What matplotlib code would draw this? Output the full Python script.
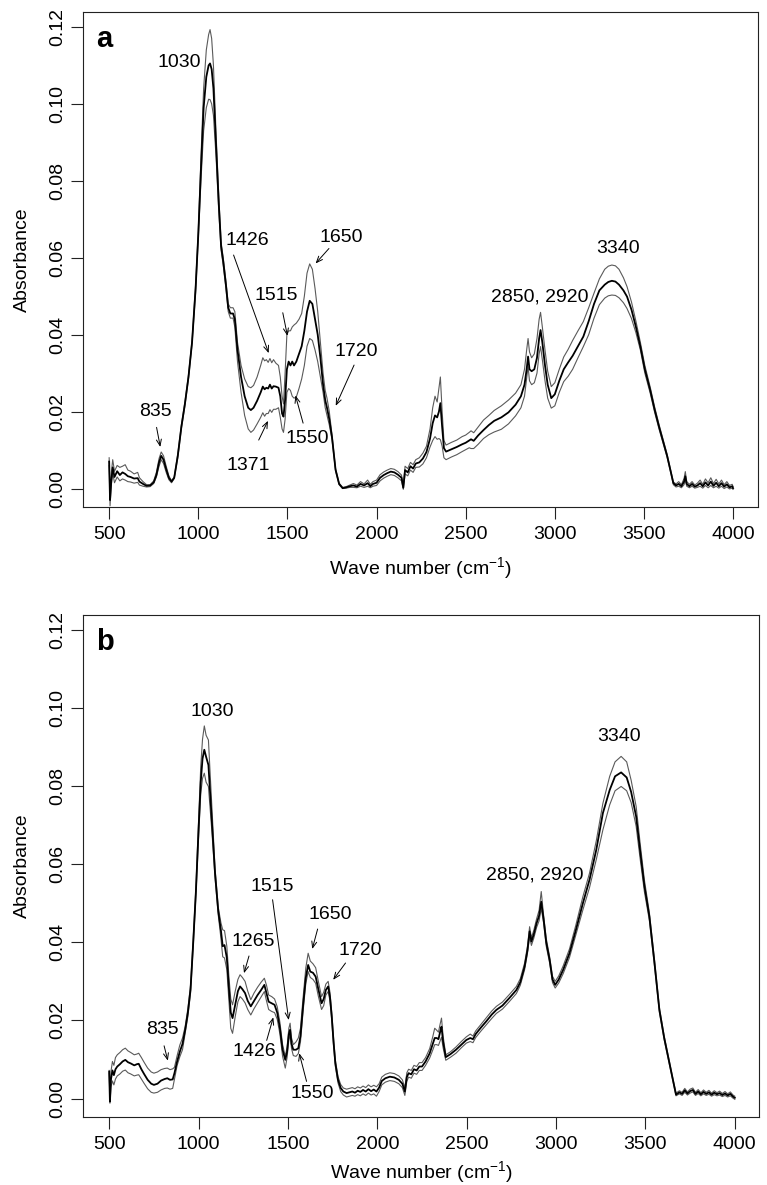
import numpy as np
import matplotlib
matplotlib.use("Agg")
import matplotlib.pyplot as plt
from matplotlib.ticker import FormatStrFormatter

plt.rcParams['font.family'] = ['Liberation Sans', 'DejaVu Sans']
plt.rcParams['mathtext.fontset'] = 'custom'
plt.rcParams['mathtext.rm'] = 'Liberation Sans'
plt.rcParams['mathtext.default'] = 'regular'

# ---- panel a: wave number, mean spectrum and the two outer spectra ----
wn_a = [500, 505, 512, 520, 530, 545, 560, 575, 590, 605, 620, 640, 660, 670, 690, 710, 730, 750,
        765, 780, 792, 805, 820, 835, 850, 865, 885, 905, 925, 945, 965, 985, 1000, 1015, 1030,
        1045, 1058, 1066, 1075, 1085, 1100, 1115, 1128, 1140, 1155, 1168, 1180, 1195, 1205, 1220,
        1240, 1260, 1280, 1295, 1310, 1330, 1350, 1362, 1372, 1382, 1392, 1402, 1412, 1422, 1435,
        1450, 1460, 1470, 1478, 1487, 1497, 1507, 1517, 1527, 1537, 1550, 1565, 1580, 1595, 1610,
        1625, 1640, 1655, 1670, 1685, 1700, 1712, 1722, 1735, 1750, 1770, 1790, 1810, 1830, 1850,
        1870, 1890, 1910, 1930, 1950, 1965, 1980, 2000, 2020, 2040, 2060, 2080, 2100, 2120, 2140,
        2150, 2160, 2175, 2190, 2205, 2220, 2240, 2260, 2280, 2300, 2315, 2328, 2340, 2350, 2358,
        2368, 2378, 2390, 2420, 2450, 2480, 2500, 2520, 2530, 2545, 2570, 2600, 2630, 2660, 2700,
        2740, 2780, 2810, 2830, 2842, 2850, 2858, 2870, 2885, 2900, 2912, 2920, 2930, 2945, 2960,
        2980, 3000, 3025, 3050, 3075, 3100, 3130, 3160, 3190, 3220, 3250, 3280, 3300, 3320, 3340,
        3360, 3385, 3405, 3430, 3455, 3480, 3505, 3535, 3560, 3585, 3610, 3630, 3650, 3665, 3680,
        3695, 3710, 3725, 3732, 3740, 3755, 3770, 3785, 3800, 3815, 3830, 3845, 3860, 3875, 3890,
        3905, 3920, 3935, 3950, 3965, 3980, 3995, 4000]
mean_a = [0.007, -0.003, 0.002, 0.0055, 0.003, 0.0045, 0.0035, 0.0042, 0.0038, 0.0032, 0.003, 0.0026,
          0.0027, 0.0018, 0.0012, 0.0007, 0.0008, 0.0016, 0.0035, 0.0068, 0.0085, 0.0075, 0.005, 0.0028,
          0.0018, 0.0028, 0.0085, 0.016, 0.022, 0.029, 0.038, 0.052, 0.066, 0.083, 0.099, 0.107, 0.110,
          0.1105, 0.109, 0.104, 0.089, 0.074, 0.063, 0.059, 0.053, 0.047, 0.0455, 0.0455, 0.044, 0.036,
          0.029, 0.024, 0.021, 0.0204, 0.021, 0.0228, 0.025, 0.0265, 0.0258, 0.0262, 0.026, 0.027, 0.026,
          0.0266, 0.0265, 0.0262, 0.024, 0.0195, 0.0187, 0.023, 0.031, 0.033, 0.032, 0.033, 0.032, 0.033,
          0.035, 0.037, 0.041, 0.046, 0.0488, 0.048, 0.044, 0.040, 0.034, 0.027, 0.023, 0.021, 0.018,
          0.0134, 0.0049, 0.0012, 0.0001, 0.0003, 0.0006, 0.0008, 0.0005, 0.0012, 0.0008, 0.0014, 0.0006,
          0.0012, 0.0015, 0.0028, 0.0035, 0.004, 0.0044, 0.0042, 0.0036, 0.0028, 0.0002, 0.0048, 0.0042,
          0.0058, 0.0052, 0.0065, 0.0068, 0.0078, 0.0095, 0.013, 0.017, 0.019, 0.0185, 0.020, 0.0222,
          0.016, 0.0105, 0.0096, 0.0102, 0.0108, 0.0115, 0.0119, 0.0125, 0.0128, 0.0124, 0.0138, 0.0152,
          0.0165, 0.0176, 0.0185, 0.0198, 0.0218, 0.024, 0.027, 0.031, 0.0343, 0.031, 0.0305, 0.031,
          0.034, 0.039, 0.0412, 0.038, 0.032, 0.027, 0.0235, 0.0245, 0.028, 0.031, 0.0328, 0.0345, 0.037,
          0.0395, 0.0435, 0.048, 0.0515, 0.053, 0.0537, 0.054, 0.0538, 0.053, 0.0515, 0.0499, 0.0465,
          0.042, 0.0369, 0.031, 0.0256, 0.0205, 0.016, 0.0118, 0.0085, 0.0045, 0.0014, 0.0008, 0.0012,
          0.0006, 0.0018, 0.0032, 0.0012, 0.0006, 0.0012, 0.0005, 0.0008, 0.0014, 0.0006, 0.0016, 0.0008,
          0.0018, 0.0007, 0.0015, 0.0006, 0.0014, 0.0005, 0.0011, 0.0003, 0.0006, 0.0001]
upper_a = [0.008, -0.002, 0.004, 0.0075, 0.0045, 0.006, 0.0055, 0.0058, 0.0062, 0.0048, 0.0045, 0.0038,
           0.0042, 0.0028, 0.0018, 0.001, 0.001, 0.002, 0.0042, 0.0078, 0.0095, 0.0085, 0.0058, 0.0033,
           0.002, 0.003, 0.009, 0.0165, 0.0225, 0.0295, 0.0385, 0.053, 0.067, 0.086, 0.104, 0.114, 0.118,
           0.1193, 0.117, 0.110, 0.092, 0.076, 0.064, 0.060, 0.054, 0.048, 0.047, 0.047, 0.046, 0.038,
           0.032, 0.0285, 0.0265, 0.0262, 0.0268, 0.029, 0.032, 0.034, 0.0332, 0.0335, 0.0328, 0.0338,
           0.0327, 0.0335, 0.0326, 0.032, 0.029, 0.024, 0.022, 0.030, 0.040, 0.041, 0.041, 0.042, 0.0425,
           0.043, 0.044, 0.0455, 0.050, 0.056, 0.0584, 0.057, 0.052, 0.046, 0.038, 0.030, 0.0255, 0.0235,
           0.020, 0.014, 0.0052, 0.0014, 0.0003, 0.0005, 0.0009, 0.0013, 0.0009, 0.0018, 0.0012, 0.0022,
           0.0011, 0.0018, 0.0022, 0.0036, 0.0043, 0.0048, 0.0052, 0.005, 0.0044, 0.0035, 0.0006, 0.0058,
           0.0052, 0.0068, 0.0062, 0.0075, 0.008, 0.0092, 0.011, 0.0155, 0.021, 0.024, 0.0225, 0.026,
           0.029, 0.020, 0.0125, 0.0113, 0.012, 0.0126, 0.0135, 0.0139, 0.0146, 0.015, 0.0145, 0.016,
           0.0178, 0.019, 0.0203, 0.0215, 0.023, 0.0248, 0.027, 0.031, 0.036, 0.039, 0.0355, 0.034, 0.035,
           0.039, 0.044, 0.0458, 0.042, 0.036, 0.0305, 0.0265, 0.0275, 0.031, 0.0342, 0.0362, 0.0385,
           0.041, 0.0434, 0.047, 0.0508, 0.0545, 0.057, 0.0578, 0.0581, 0.0579, 0.057, 0.0548, 0.0525,
           0.0485, 0.0435, 0.038, 0.032, 0.0264, 0.0212, 0.0166, 0.0123, 0.0089, 0.0048, 0.0017, 0.0012,
           0.0018, 0.001, 0.0026, 0.0044, 0.0018, 0.0011, 0.0018, 0.0009, 0.0014, 0.0022, 0.0011, 0.0025,
           0.0015, 0.0028, 0.0013, 0.0024, 0.0012, 0.0022, 0.001, 0.0018, 0.0008, 0.0011, 0.0005]
lower_a = [0.006, -0.0045, 0.001, 0.004, 0.0015, 0.003, 0.002, 0.0025, 0.0022, 0.0018, 0.0017, 0.0014,
           0.0016, 0.0009, 0.0006, 0.0004, 0.0005, 0.0013, 0.003, 0.0058, 0.0075, 0.0065, 0.0042, 0.0023,
           0.0015, 0.0026, 0.008, 0.0155, 0.0215, 0.0285, 0.0375, 0.051, 0.065, 0.080, 0.093, 0.099,
           0.1012, 0.1011, 0.100, 0.097, 0.086, 0.072, 0.062, 0.058, 0.052, 0.046, 0.0443, 0.0443, 0.042,
           0.033, 0.025, 0.019, 0.0155, 0.0146, 0.0152, 0.0168, 0.0185, 0.0197, 0.0188, 0.0195, 0.0195,
           0.0205, 0.0198, 0.0206, 0.0206, 0.021, 0.0185, 0.0155, 0.0146, 0.018, 0.025, 0.026, 0.0255,
           0.024, 0.0235, 0.0238, 0.026, 0.0285, 0.032, 0.037, 0.039, 0.0385, 0.036, 0.033, 0.029, 0.025,
           0.021, 0.019, 0.0165, 0.0128, 0.0046, 0.001, 0.0, 0.0001, 0.0003, 0.0003, 0.0002, 0.0006, 0.0003,
           0.0006, 0.0002, 0.0006, 0.0008, 0.002, 0.0027, 0.0032, 0.0036, 0.0034, 0.0028, 0.002, -0.0002,
           0.0038, 0.0033, 0.0048, 0.0042, 0.0055, 0.0056, 0.0064, 0.008, 0.0108, 0.0125, 0.0135, 0.0128,
           0.013, 0.0127, 0.011, 0.008, 0.0075, 0.0082, 0.0088, 0.0096, 0.0101, 0.0106, 0.0104, 0.0104,
           0.0115, 0.013, 0.014, 0.0147, 0.0154, 0.0168, 0.0189, 0.021, 0.024, 0.0285, 0.0317, 0.028,
           0.027, 0.0275, 0.030, 0.035, 0.0369, 0.0335, 0.028, 0.0235, 0.0209, 0.0215, 0.025, 0.0278,
           0.0292, 0.031, 0.034, 0.0369, 0.040, 0.0443, 0.0478, 0.0495, 0.0501, 0.0503, 0.0502, 0.0496,
           0.0483, 0.0468, 0.0442, 0.0405, 0.036, 0.030, 0.0248, 0.0198, 0.0154, 0.0113, 0.0081, 0.0042,
           0.001, 0.0004, 0.0006, 0.0002, 0.001, 0.0022, 0.0006, 0.0002, 0.0006, 0.0001, 0.0003, 0.0006,
           0.0001, 0.0008, 0.0002, 0.0008, 0.0002, 0.0006, 0.0001, 0.0006, 0.0, 0.0004, -0.0001, 0.0001,
           -0.0002]

# ---- panel b ----
wn_b = [500, 504, 510, 518, 526, 535, 545, 560, 575, 590, 605, 620, 640, 655, 665, 680, 695, 715, 735,
        750, 770, 790, 810, 825, 840, 855, 865, 880, 895, 910, 925, 940, 955, 970, 985, 1000, 1012,
        1022, 1032, 1042, 1055, 1065, 1075, 1092, 1110, 1125, 1135, 1145, 1158, 1170, 1180, 1190, 1205,
        1220, 1232, 1245, 1260, 1275, 1292, 1310, 1330, 1350, 1368, 1380, 1392, 1409, 1425, 1440, 1455,
        1470, 1485, 1495, 1505, 1512, 1520, 1530, 1545, 1558, 1570, 1585, 1600, 1613, 1625, 1640, 1655,
        1670, 1688, 1700, 1712, 1725, 1735, 1745, 1755, 1765, 1780, 1795, 1810, 1828, 1845, 1860, 1875,
        1890, 1905, 1920, 1935, 1950, 1965, 1980, 1995, 2010, 2025, 2045, 2070, 2095, 2120, 2140, 2154,
        2165, 2175, 2190, 2205, 2220, 2235, 2250, 2270, 2293, 2310, 2321, 2332, 2342, 2352, 2359, 2368,
        2383, 2410, 2440, 2470, 2498, 2520, 2535, 2550, 2580, 2610, 2640, 2666, 2700, 2740, 2778, 2800,
        2824, 2840, 2852, 2862, 2875, 2891, 2905, 2917, 2930, 2945, 2964, 2980, 2995, 3015, 3040, 3075,
        3110, 3150, 3187, 3225, 3262, 3300, 3330, 3364, 3395, 3420, 3448, 3470, 3494, 3522, 3550, 3578,
        3605, 3634, 3655, 3671, 3690, 3705, 3720, 3735, 3750, 3765, 3780, 3795, 3810, 3825, 3840, 3855,
        3870, 3885, 3900, 3915, 3930, 3945, 3960, 3975, 3990, 4000]
mean_b = [0.0069, -0.0008, 0.005, 0.0072, 0.006, 0.0075, 0.0082, 0.0088, 0.0095, 0.0099, 0.0093, 0.009,
          0.0085, 0.0088, 0.0089, 0.0075, 0.0063, 0.0048, 0.0038, 0.0035, 0.0038, 0.0046, 0.005, 0.0052,
          0.0048, 0.0049, 0.0065, 0.0095, 0.012, 0.014, 0.0176, 0.022, 0.028, 0.040, 0.053, 0.069, 0.081,
          0.087, 0.0893, 0.0875, 0.0854, 0.078, 0.071, 0.0577, 0.048, 0.043, 0.039, 0.0393, 0.036, 0.028,
          0.022, 0.0206, 0.024, 0.0275, 0.0287, 0.028, 0.027, 0.025, 0.0236, 0.025, 0.0265, 0.0278, 0.0291,
          0.027, 0.0248, 0.0244, 0.024, 0.022, 0.018, 0.0125, 0.0099, 0.012, 0.0165, 0.0176, 0.014, 0.0125,
          0.0125, 0.0129, 0.016, 0.024, 0.031, 0.0342, 0.0325, 0.0322, 0.0312, 0.028, 0.0244, 0.0255,
          0.0278, 0.0287, 0.026, 0.021, 0.0145, 0.0091, 0.0048, 0.0027, 0.0018, 0.0014, 0.0016, 0.0018,
          0.0015, 0.002, 0.0017, 0.0022, 0.0018, 0.0024, 0.0019, 0.0023, 0.0018, 0.0028, 0.0045, 0.0052,
          0.0056, 0.0054, 0.0048, 0.0038, 0.0018, 0.0055, 0.0065, 0.0062, 0.0075, 0.0072, 0.0082, 0.0082,
          0.0095, 0.0116, 0.014, 0.0155, 0.0155, 0.0152, 0.0172, 0.0184, 0.0145, 0.0106, 0.0114, 0.0125,
          0.0138, 0.015, 0.0155, 0.0152, 0.0165, 0.0182, 0.0198, 0.0215, 0.0227, 0.0238, 0.0258, 0.0278,
          0.0298, 0.0338, 0.038, 0.0428, 0.0402, 0.042, 0.0449, 0.0468, 0.0504, 0.046, 0.040, 0.0355,
          0.0305, 0.0291, 0.0305, 0.033, 0.0372, 0.043, 0.050, 0.056, 0.0637, 0.0731, 0.079, 0.0825,
          0.0835, 0.0822, 0.0785, 0.0722, 0.0635, 0.0545, 0.0466, 0.035, 0.0227, 0.0155, 0.0091, 0.0045,
          0.001, 0.0016, 0.0012, 0.0021, 0.0013, 0.0019, 0.0022, 0.0012, 0.0018, 0.0011, 0.0017, 0.0012,
          0.0016, 0.001, 0.0015, 0.0011, 0.0014, 0.0009, 0.0013, 0.0008, 0.0012, 0.0005, 0.0002]
upper_b = [0.0072, 0.0, 0.007, 0.0095, 0.0085, 0.0105, 0.0112, 0.0118, 0.0125, 0.0129, 0.0122, 0.0118,
           0.0112, 0.0114, 0.0116, 0.0105, 0.0093, 0.0078, 0.0068, 0.0065, 0.0068, 0.0074, 0.0077, 0.0078,
           0.0074, 0.0076, 0.008, 0.011, 0.0137, 0.0155, 0.0185, 0.023, 0.029, 0.041, 0.054, 0.071, 0.085,
           0.092, 0.0954, 0.093, 0.0918, 0.083, 0.074, 0.059, 0.049, 0.045, 0.0432, 0.043, 0.039, 0.031,
           0.0255, 0.024, 0.0275, 0.0305, 0.0317, 0.031, 0.030, 0.0275, 0.0253, 0.027, 0.0285, 0.0298,
           0.0308, 0.029, 0.0265, 0.0261, 0.0255, 0.0235, 0.0195, 0.0138, 0.0108, 0.0132, 0.018, 0.0193,
           0.0155, 0.0138, 0.0145, 0.0155, 0.018, 0.026, 0.0335, 0.0372, 0.0352, 0.0345, 0.0335, 0.030,
           0.0261, 0.0272, 0.0293, 0.030, 0.0272, 0.022, 0.0155, 0.0099, 0.0056, 0.0036, 0.0027, 0.0024,
           0.0026, 0.0028, 0.0025, 0.003, 0.0027, 0.0032, 0.0028, 0.0035, 0.003, 0.0034, 0.003, 0.0038,
           0.0055, 0.0062, 0.0066, 0.0064, 0.0058, 0.0048, 0.0028, 0.0066, 0.0075, 0.0072, 0.0085, 0.0082,
           0.0092, 0.0092, 0.0105, 0.0128, 0.0158, 0.018, 0.0175, 0.017, 0.0192, 0.0206, 0.016, 0.0112,
           0.012, 0.0132, 0.0146, 0.0158, 0.0165, 0.016, 0.0173, 0.019, 0.0207, 0.0224, 0.0236, 0.0247,
           0.0267, 0.0287, 0.0307, 0.0347, 0.039, 0.044, 0.0412, 0.043, 0.046, 0.0482, 0.053, 0.047, 0.041,
           0.0363, 0.0313, 0.030, 0.0314, 0.034, 0.0383, 0.0443, 0.0517, 0.0577, 0.066, 0.0756, 0.0825,
           0.0862, 0.0876, 0.0862, 0.0815, 0.0748, 0.0655, 0.056, 0.0476, 0.0358, 0.0233, 0.016, 0.0095,
           0.0048, 0.0014, 0.002, 0.0016, 0.0026, 0.0017, 0.0024, 0.0027, 0.0016, 0.0023, 0.0015, 0.0022,
           0.0016, 0.0021, 0.0014, 0.002, 0.0015, 0.0019, 0.0013, 0.0018, 0.0012, 0.0017, 0.0009, 0.0006]
lower_b = [0.0065, -0.0012, 0.003, 0.0045, 0.0035, 0.005, 0.0058, 0.0063, 0.007, 0.0073, 0.0066, 0.0063,
           0.0058, 0.006, 0.0061, 0.005, 0.0039, 0.0025, 0.0016, 0.0014, 0.0016, 0.0022, 0.0026, 0.0027,
           0.0024, 0.0026, 0.005, 0.0085, 0.0107, 0.0125, 0.0168, 0.021, 0.027, 0.039, 0.052, 0.067, 0.078,
           0.082, 0.0833, 0.081, 0.0799, 0.074, 0.068, 0.0565, 0.047, 0.041, 0.0363, 0.036, 0.033, 0.025,
           0.018, 0.0167, 0.021, 0.0248, 0.0261, 0.0255, 0.0245, 0.0228, 0.0214, 0.023, 0.0245, 0.026,
           0.0274, 0.025, 0.0228, 0.0223, 0.022, 0.0203, 0.0165, 0.0108, 0.0078, 0.0105, 0.015, 0.0163,
           0.0128, 0.011, 0.0108, 0.0115, 0.0145, 0.0225, 0.0295, 0.0325, 0.031, 0.0305, 0.0295, 0.0262,
           0.0228, 0.0238, 0.0265, 0.0274, 0.025, 0.020, 0.0136, 0.0083, 0.004, 0.0018, 0.0009, 0.0004,
           0.0006, 0.0008, 0.0006, 0.001, 0.0007, 0.0012, 0.0008, 0.0014, 0.0009, 0.0012, 0.0006, 0.0018,
           0.0035, 0.0042, 0.0046, 0.0044, 0.0038, 0.0028, 0.0008, 0.0044, 0.0055, 0.0052, 0.0065, 0.0062,
           0.0072, 0.0072, 0.0085, 0.0104, 0.0124, 0.0138, 0.0138, 0.0136, 0.0148, 0.0157, 0.013, 0.0098,
           0.0106, 0.0116, 0.013, 0.0142, 0.0146, 0.0143, 0.0156, 0.0173, 0.0189, 0.0205, 0.0218, 0.0229,
           0.0249, 0.0269, 0.029, 0.033, 0.0372, 0.0415, 0.0392, 0.041, 0.0438, 0.0455, 0.0487, 0.045,
           0.039, 0.0347, 0.0297, 0.0283, 0.0296, 0.032, 0.0361, 0.0418, 0.0483, 0.054, 0.0612, 0.0688,
           0.0752, 0.0788, 0.0799, 0.0788, 0.0758, 0.0697, 0.0615, 0.053, 0.0456, 0.0342, 0.0221, 0.015,
           0.0087, 0.0042, 0.0007, 0.0012, 0.0008, 0.0016, 0.0009, 0.0014, 0.0017, 0.0008, 0.0013, 0.0007,
           0.0012, 0.0008, 0.0011, 0.0006, 0.001, 0.0007, 0.0009, 0.0005, 0.0008, 0.0004, 0.0007, 0.0001,
           -0.0002]

xticks = [500, 1000, 1500, 2000, 2500, 3000, 3500, 4000]
yticks = [0.00, 0.02, 0.04, 0.06, 0.08, 0.10, 0.12]

# peak labels: text, text position, arrow start, arrow end (None = no arrow)
notes_a = [
    ("1030", (894, 0.1107), None, None),
    ("1426", (1277, 0.0644), (1198, 0.0607), (1395, 0.0352)),
    ("1650", (1803, 0.0652), (1733, 0.0624), (1658, 0.0585)),
    ("1515", (1439, 0.0503), (1474, 0.0457), (1500, 0.0397)),
    ("1720", (1885, 0.0356), (1874, 0.0321), (1771, 0.0215)),
    ("835", (759, 0.0200), (766, 0.0159), (787, 0.0108)),
    ("1550", (1611, 0.0129), (1588, 0.0170), (1545, 0.0242)),
    ("1371", (1283, 0.0060), (1339, 0.0126), (1391, 0.0176)),
    ("2850, 2920", (2916, 0.0499), None, None),
    ("3340", (3352, 0.0623), None, None),
]
notes_b = [
    ("1030", (1074, 0.0990), None, None),
    ("1515", (1413, 0.0543), (1414, 0.0509), (1504, 0.0201)),
    ("1650", (1735, 0.0472), (1666, 0.0434), (1636, 0.0383)),
    ("1265", (1308, 0.0401), (1282, 0.0365), (1254, 0.0321)),
    ("1720", (1902, 0.0378), (1822, 0.0347), (1753, 0.0304)),
    ("835", (799, 0.0178), (807, 0.0135), (828, 0.0097)),
    ("1426", (1312, 0.0120), (1381, 0.0149), (1418, 0.0208)),
    ("1550", (1637, 0.0013), (1604, 0.0044), (1563, 0.0116)),
    ("2850, 2920", (2880, 0.0573), None, None),
    ("3340", (3352, 0.0927), None, None),
]

W, H = 767, 1185
fig = plt.figure(figsize=(W / 100, H / 100), dpi=100)
ax_a = fig.add_axes([83.3 / W, 1 - 507 / H, (757.5 - 83.3) / W, (507 - 12.3) / H])
ax_b = fig.add_axes([83.3 / W, 1 - 1117.3 / H, (759.3 - 83.3) / W, (1117.3 - 615) / H])

fs = 14
grey = '#5a5a5a'


def draw_panel(ax, wn, mean, upper, lower, notes, tag, xlab_y):
    ax.plot(wn, upper, color=grey, lw=0.8)
    ax.plot(wn, lower, color=grey, lw=0.8)
    ax.plot(wn, mean, color='black', lw=1.3)
    ax.set_xlim(355, 4137)
    ax.set_ylim(-0.0048, 0.1238)
    ax.set_xticks(xticks)
    ax.set_yticks(yticks)
    ax.yaxis.set_major_formatter(FormatStrFormatter('%.2f'))
    ax.tick_params(axis='both', direction='out', length=8.5, width=0.8, labelsize=fs, color='#222222')
    ax.tick_params(axis='x', pad=5)
    ax.tick_params(axis='y', pad=3.5)
    for lab in ax.get_yticklabels():
        lab.set_rotation(90)
        lab.set_va('center')
    for s in ax.spines.values():
        s.set_linewidth(0.8)
        s.set_color('#222222')
    ax.set_xlabel('Wave number (cm$^{-1}$)', fontsize=fs)
    ax.set_ylabel('Absorbance', fontsize=fs)
    ax.xaxis.set_label_coords(0.5, xlab_y)
    ax.yaxis.set_label_coords(-0.078, 0.5)
    ax.text(0.019, 0.975, tag, transform=ax.transAxes, fontsize=21, fontweight='bold',
            ha='left', va='top')
    for txt, pos, start, end in notes:
        ax.text(pos[0], pos[1], txt, fontsize=fs, ha='center', va='center')
        if start is not None:
            ax.annotate('', xy=end, xytext=start,
                        arrowprops=dict(arrowstyle='->,head_length=0.45,head_width=0.18',
                                        lw=0.7, color='black', shrinkA=0, shrinkB=0))


draw_panel(ax_a, wn_a, mean_a, upper_a, lower_a, notes_a, 'a', -0.098)
draw_panel(ax_b, wn_b, mean_b, upper_b, lower_b, notes_b, 'b', -0.084)

fig.savefig('out.png', dpi=100)
